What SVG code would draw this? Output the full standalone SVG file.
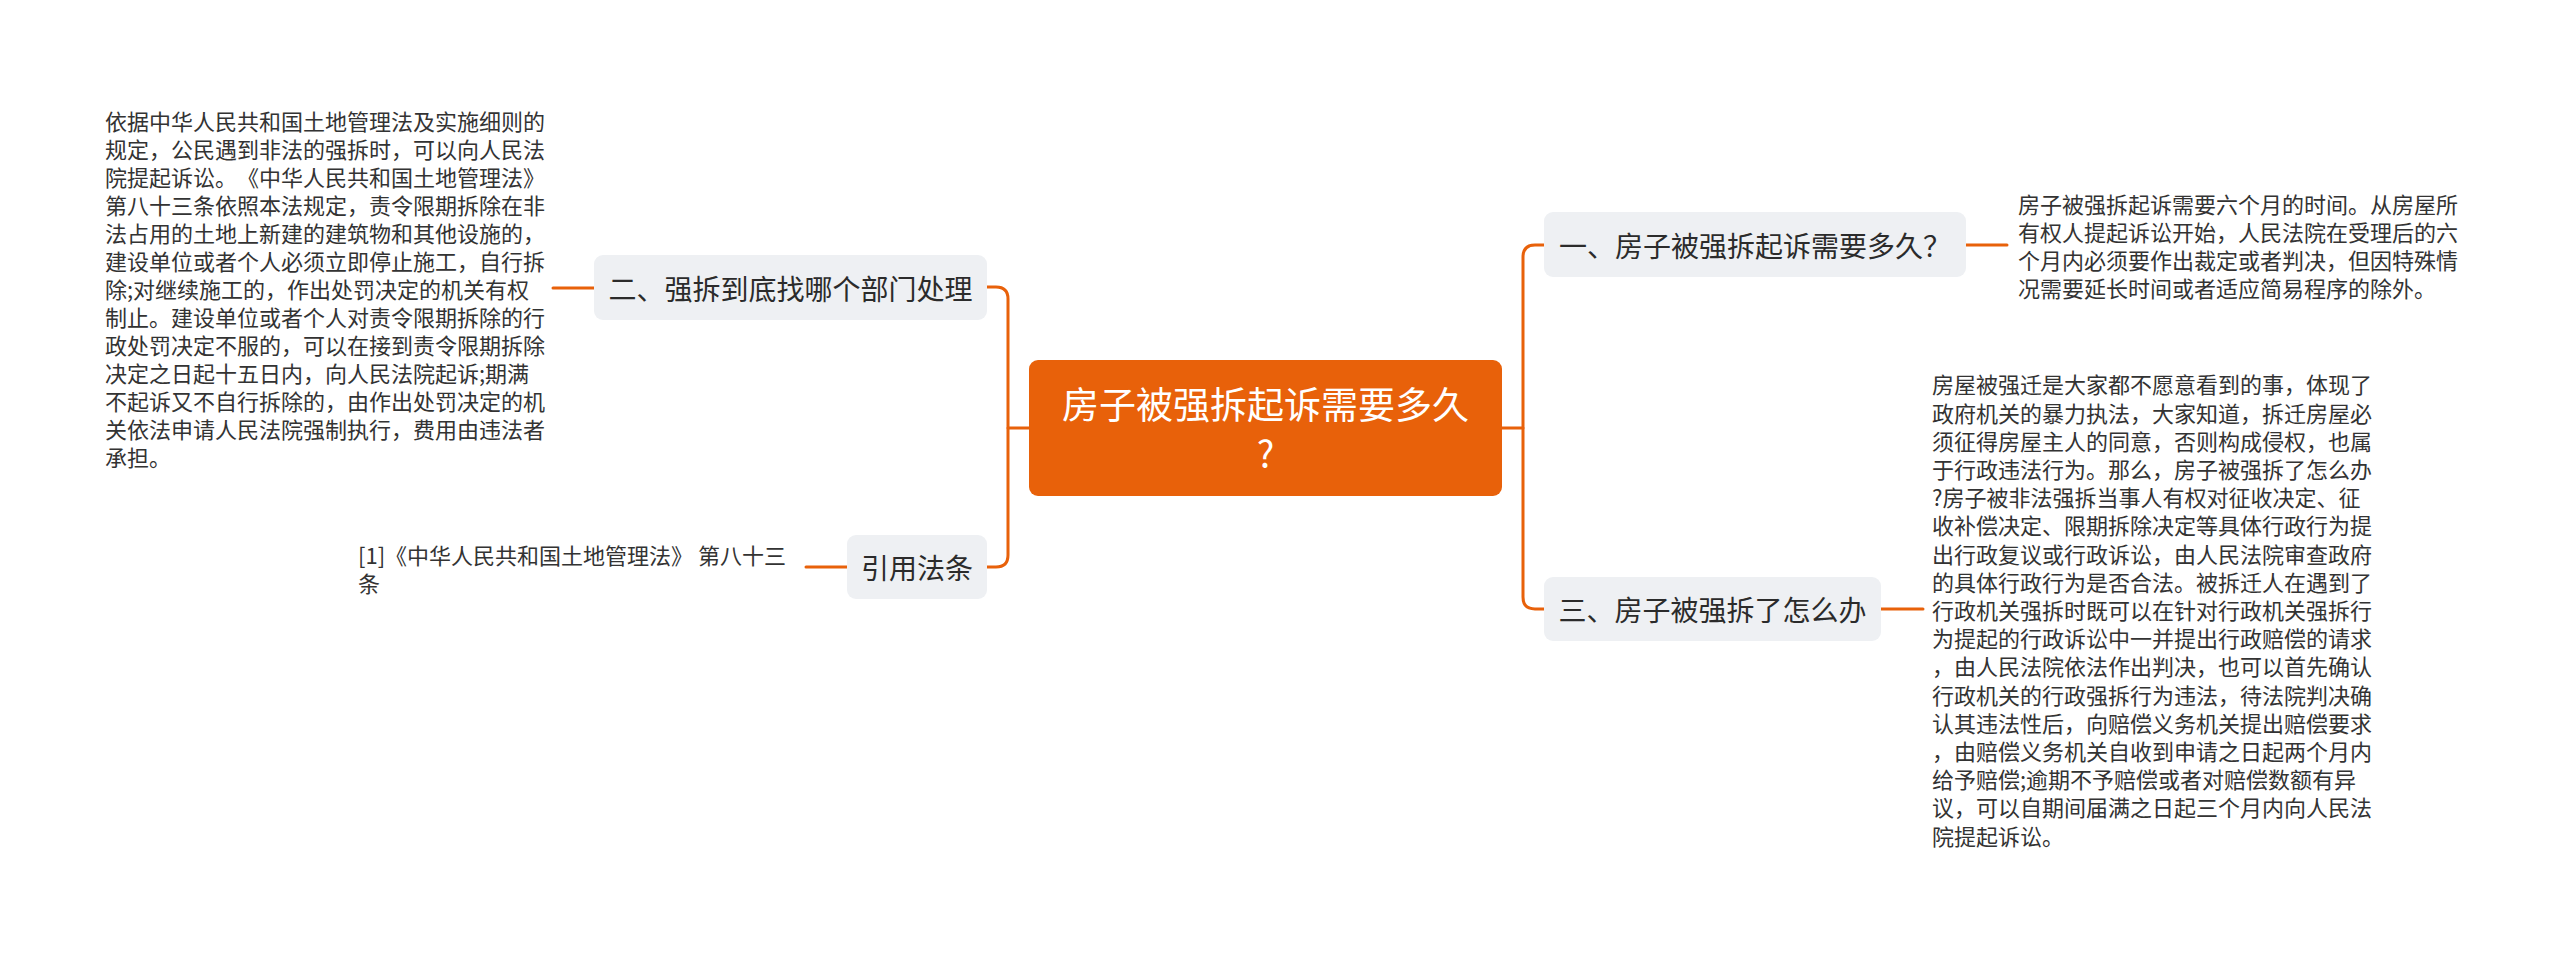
<svg xmlns="http://www.w3.org/2000/svg" width="2560" height="953" viewBox="0 0 2560 953">
<style>
.bg{fill:#ffffff}
.lnk{fill:none;stroke:#E8610A;stroke-width:3;stroke-linecap:round}
.box{fill:#EEF0F3}
.root{fill:#E8610A}
.nt{font-family:"Noto Sans CJK SC","Noto Sans",sans-serif;font-size:28px;fill:#2b2b2b;text-anchor:middle;dominant-baseline:central}
.rt{font-family:"Noto Sans CJK SC","Noto Sans",sans-serif;font-size:37px;fill:#ffffff;text-anchor:middle;dominant-baseline:central}
.tx{font-family:"Noto Sans CJK SC","Noto Sans",sans-serif;font-size:22px;fill:#333333;dominant-baseline:central;white-space:pre;text-spacing-trim:space-all}
</style>
<rect class="bg" x="0" y="0" width="2560" height="953"/>
<g id="connectors">
<path class="lnk" d="M1029,428 H1008"/>
<path class="lnk" d="M987,287 H996 Q1008,287 1008,299 V555 Q1008,567 996,567 H987"/>
<path class="lnk" d="M1502,428 H1523"/>
<path class="lnk" d="M1544,245 H1535 Q1523,245 1523,257 V597 Q1523,609 1535,609 H1544"/>
<path class="lnk" d="M594,288 H553"/>
<path class="lnk" d="M847,567 H806"/>
<path class="lnk" d="M1966,245 H2007"/>
<path class="lnk" d="M1881,609 H1923"/>
</g>
<g id="root">
<rect class="root" x="1029" y="360" width="473" height="136" rx="9"/>
<text class="rt" x="1265.5" y="403">房子被强拆起诉需要多久</text>
<text class="rt" x="1265.5" y="452">?</text>
</g>
<g id="node-1">
<rect class="box" x="1544" y="212" width="422" height="65" rx="9"/>
<text class="nt" x="1755" y="244.5">一、房子被强拆起诉需要多久？</text>
</g>
<g id="node-1-detail">
<text class="tx" x="2018" y="203">房子被强拆起诉需要六个月的时间。从房屋所</text>
<text class="tx" x="2018" y="231">有权人提起诉讼开始，人民法院在受理后的六</text>
<text class="tx" x="2018" y="259">个月内必须要作出裁定或者判决，但因特殊情</text>
<text class="tx" x="2018" y="287">况需要延长时间或者适应简易程序的除外。</text>
</g>
<g id="node-3">
<rect class="box" x="1544" y="577" width="337" height="64" rx="9"/>
<text class="nt" x="1712.5" y="609">三、房子被强拆了怎么办</text>
</g>
<g id="node-3-detail">
<text class="tx" x="1932" y="383.4">房屋被强迁是大家都不愿意看到的事，体现了</text>
<text class="tx" x="1932" y="411.6">政府机关的暴力执法，大家知道，拆迁房屋必</text>
<text class="tx" x="1932" y="439.8">须征得房屋主人的同意，否则构成侵权，也属</text>
<text class="tx" x="1932" y="468">于行政违法行为。那么，房子被强拆了怎么办</text>
<text class="tx" x="1932" y="496.2">?房子被非法强拆当事人有权对征收决定、征</text>
<text class="tx" x="1932" y="524.4">收补偿决定、限期拆除决定等具体行政行为提</text>
<text class="tx" x="1932" y="552.6">出行政复议或行政诉讼，由人民法院审查政府</text>
<text class="tx" x="1932" y="580.8">的具体行政行为是否合法。被拆迁人在遇到了</text>
<text class="tx" x="1932" y="609">行政机关强拆时既可以在针对行政机关强拆行</text>
<text class="tx" x="1932" y="637.2">为提起的行政诉讼中一并提出行政赔偿的请求</text>
<text class="tx" x="1932" y="665.4">，由人民法院依法作出判决，也可以首先确认</text>
<text class="tx" x="1932" y="693.6">行政机关的行政强拆行为违法，待法院判决确</text>
<text class="tx" x="1932" y="721.8">认其违法性后，向赔偿义务机关提出赔偿要求</text>
<text class="tx" x="1932" y="750">，由赔偿义务机关自收到申请之日起两个月内</text>
<text class="tx" x="1932" y="778.2">给予赔偿;逾期不予赔偿或者对赔偿数额有异</text>
<text class="tx" x="1932" y="806.4">议，可以自期间届满之日起三个月内向人民法</text>
<text class="tx" x="1932" y="834.6">院提起诉讼。</text>
</g>
<g id="node-2">
<rect class="box" x="594" y="255" width="393" height="65" rx="9"/>
<text class="nt" x="790.5" y="287.5">二、强拆到底找哪个部门处理</text>
</g>
<g id="node-2-detail">
<text class="tx" x="105" y="120">依据中华人民共和国土地管理法及实施细则的</text>
<text class="tx" x="105" y="148">规定，公民遇到非法的强拆时，可以向人民法</text>
<text class="tx" x="105" y="176">院提起诉讼。《中华人民共和国土地管理法》</text>
<text class="tx" x="105" y="204">第八十三条依照本法规定，责令限期拆除在非</text>
<text class="tx" x="105" y="232">法占用的土地上新建的建筑物和其他设施的，</text>
<text class="tx" x="105" y="260">建设单位或者个人必须立即停止施工，自行拆</text>
<text class="tx" x="105" y="288">除;对继续施工的，作出处罚决定的机关有权</text>
<text class="tx" x="105" y="316">制止。建设单位或者个人对责令限期拆除的行</text>
<text class="tx" x="105" y="344">政处罚决定不服的，可以在接到责令限期拆除</text>
<text class="tx" x="105" y="372">决定之日起十五日内，向人民法院起诉;期满</text>
<text class="tx" x="105" y="400">不起诉又不自行拆除的，由作出处罚决定的机</text>
<text class="tx" x="105" y="428">关依法申请人民法院强制执行，费用由违法者</text>
<text class="tx" x="105" y="456">承担。</text>
</g>
<g id="node-ref">
<rect class="box" x="847" y="535" width="140" height="64" rx="9"/>
<text class="nt" x="917" y="567">引用法条</text>
</g>
<g id="node-ref-detail">
<text class="tx" x="358" y="554">[1]《中华人民共和国土地管理法》 第八十三</text>
<text class="tx" x="358" y="582">条</text>
</g>
</svg>
